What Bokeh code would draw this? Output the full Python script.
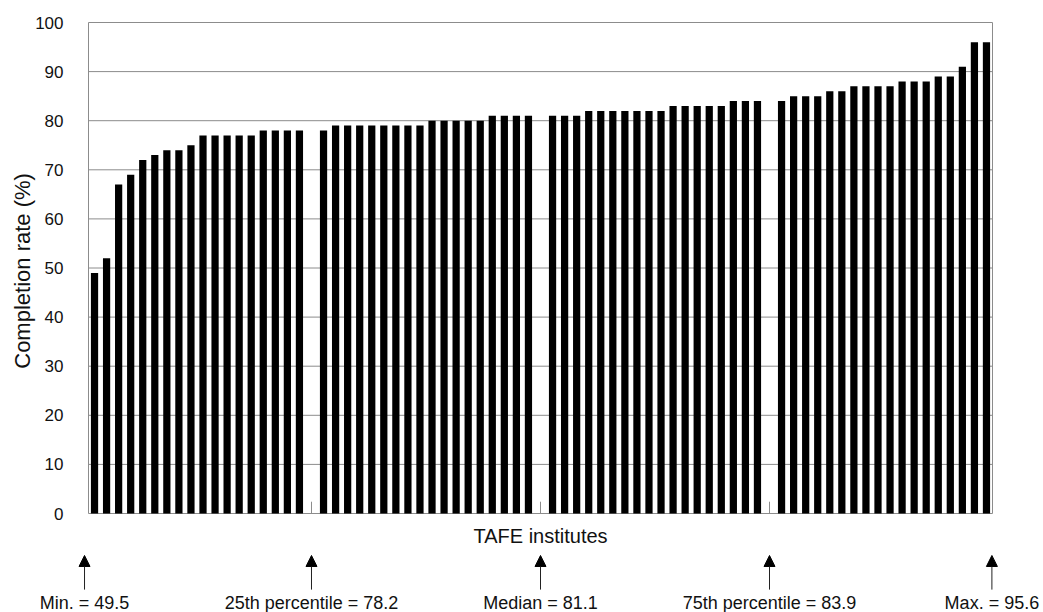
import math
from bokeh.plotting import figure
from bokeh.models import Range1d, Arrow, NormalHead
from bokeh.embed import file_html
from bokeh.resources import INLINE

# ---- data ----
group1 = [49, 52, 67, 69, 72, 73, 74, 74, 75, 77, 77, 77, 77, 77, 78, 78, 78, 78]
group2 = [78, 79, 79, 79, 79, 79, 79, 79, 79, 80, 80, 80, 80, 80, 81, 81, 81, 81]
group3 = [81, 81, 81, 82, 82, 82, 82, 82, 82, 82, 83, 83, 83, 83, 83, 84, 84, 84]
group4 = [84, 85, 85, 85, 86, 86, 87, 87, 87, 87, 88, 88, 88, 89, 89, 91, 96, 96]
annot_texts = ["Min. = 49.5", "25th percentile = 78.2", "Median = 81.1",
               "75th percentile = 83.9", "Max. = 95.6"]
y_ticks = [0, 10, 20, 30, 40, 50, 60, 70, 80, 90, 100]
y_label = "Completion rate (%)"
x_label = "TAFE institutes"

groups = [group1, group2, group3, group4]

# slot positions: one empty slot between groups
xs, tops, gap_slots = [], [], []
slot = 0
for gi, g in enumerate(groups):
    for v in g:
        xs.append(slot)
        tops.append(v)
        slot += 1
    if gi < len(groups) - 1:
        gap_slots.append(slot)
        slot += 1
n_slots = slot
XL, XR = -0.5, n_slots - 0.5
YB, YT = 0, 100

# ---- layout (pixels) ----
W, H = 1043, 612
PL, PR, PT, PB = 88, 992, 22, 513          # plot area inside the figure
pps = (PR - PL) / (XR - XL)                 # pixels per slot
ppu = (PB - PT) / (YT - YB)                 # pixels per percent

x_range = Range1d(XL - PL / pps, XR + (W - PR) / pps)
y_range = Range1d(YB - (H - PB) / ppu, YT + PT / ppu)

FONT = "Liberation Sans"
GREY = "#8c8c8c"
TXT = "#111111"

p = figure(width=W, height=H, output_backend="svg", toolbar_location=None,
           x_range=x_range, y_range=y_range,
           min_border=0, min_border_left=0, min_border_right=0,
           min_border_top=0, min_border_bottom=0)
p.axis.visible = False
p.grid.visible = False
p.outline_line_color = None
p.background_fill_color = "white"
p.border_fill_color = "white"

# grid lines
grid_ys = [t for t in y_ticks if t > YB]
p.segment(x0=[XL] * len(grid_ys), x1=[XR] * len(grid_ys), y0=grid_ys, y1=grid_ys,
          line_color=GREY, line_width=1)
# frame: left axis, right border, bottom axis
p.segment(x0=[XL, XR, XL], x1=[XL, XR, XR], y0=[YB, YB, YB], y1=[YT, YT, YB],
          line_color=GREY, line_width=1)
# small ticks at the gaps
p.segment(x0=gap_slots, x1=gap_slots, y0=[YB] * len(gap_slots),
          y1=[YB + 2.4] * len(gap_slots), line_color=GREY, line_width=1)

# bars
p.vbar(x=xs, top=tops, width=0.6, bottom=YB, fill_color="black", line_color=None)

# y tick labels
p.text(x=[XL] * len(y_ticks), y=y_ticks, text=[str(t) for t in y_ticks],
       x_offset=-25, text_align="right", text_baseline="middle",
       text_font={"value": FONT}, text_font_size={"value": "17px"}, text_color=TXT)

# y axis title
p.text(x=[XL], y=[49.4], text=[y_label], angle=math.pi / 2, x_offset=-66,
       text_align="center", text_baseline="middle",
       text_font={"value": FONT}, text_font_size={"value": "22px"}, text_color=TXT)

# x axis title
p.text(x=[(XL + XR) / 2], y=[-4.5], text=[x_label],
       text_align="center", text_baseline="middle",
       text_font={"value": FONT}, text_font_size={"value": "20px"}, text_color=TXT)

# summary arrows and labels
annot_x = [XL - 0.33] + gap_slots + [XR - 0.05]
for ax in annot_x:
    p.add_layout(Arrow(end=NormalHead(size=11, fill_color="black", line_color="black"),
                       x_start=ax, y_start=-15.5, x_end=ax, y_end=-8.55,
                       line_color="#222222", line_width=1))
p.text(x=annot_x, y=[-18.2] * len(annot_x), text=annot_texts,
       text_align="center", text_baseline="middle",
       text_font={"value": FONT}, text_font_size={"value": "18px"}, text_color=TXT)

open("out.html", "w").write(file_html(p, INLINE))
